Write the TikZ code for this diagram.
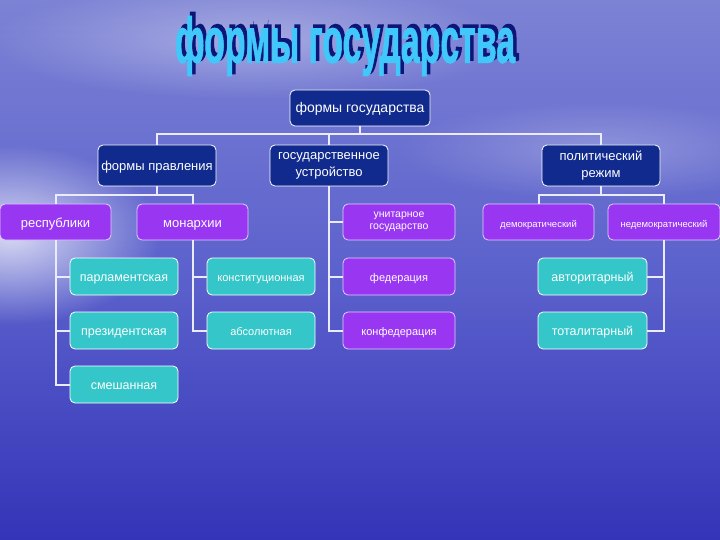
\documentclass[tikz,border=0pt]{standalone}
\usepackage{fontspec}
\setmainfont{Liberation Sans}
\newfontfamily\ttlfont[FakeBold=1.5]{Liberation Sans Bold}
\newfontfamily\ttlshfont[FakeBold=4]{Liberation Sans Bold}
\usetikzlibrary{fadings}
\tikzfading[name=glowfade, inner color=transparent!0, outer color=transparent!100]
\definecolor{navy}{RGB}{16,42,142}
\definecolor{purp}{RGB}{152,54,242}
\definecolor{teal2}{RGB}{52,198,200}
\definecolor{ttl}{RGB}{64,200,250}
\definecolor{ttlshadow}{RGB}{12,22,120}
\definecolor{skytop}{RGB}{124,130,212}
\definecolor{skymid}{RGB}{92,98,204}
\definecolor{seabot}{RGB}{52,52,184}
\newcommand{\fs}[1]{\fontsize{#1}{17}\selectfont}
\begin{document}
\begin{tikzpicture}[x=1pt,y=-1pt,
  box/.style={draw=white, line width=0.8pt, rounded corners=5pt, text=white,
    align=center, inner sep=1pt, minimum height=36pt},
  sl/.style={text height=10pt, text depth=0pt},
  navybox/.style={box, fill=navy, minimum height=41pt, minimum width=118pt},
  purpbox/.style={box, fill=purp, draw=purp!25!white},
  tealbox/.style={box, fill=teal2, minimum height=37pt, sl},
  conn/.style={draw=white!92!blue, line width=2pt}
]
\useasboundingbox (0,0) rectangle (720,540);
% background
\shade[top color=skytop, bottom color=seabot, middle color=skymid] (0,0) rectangle (720,540);
\fill[white, opacity=0.75, path fading=glowfade] (10,235) ellipse (150pt and 90pt);
\fill[white, opacity=0.35, path fading=glowfade] (250,40) ellipse (260pt and 60pt);
\fill[white, opacity=0.25, path fading=glowfade] (600,150) ellipse (200pt and 50pt);

% title
\node[text=ttlshadow, inner sep=0pt] (titleshadow) at (348,43)
  {\resizebox*{340pt}{60pt}{\ttlshfont формы государства}};
\node[text=ttl, inner sep=0pt] (title) at (345,46)
  {\resizebox*{340pt}{60pt}{\ttlfont формы государства}};

% nodes
\node[box, sl, fill=navy, minimum width=140pt, font=\fs{14}] (top) at (360,108) {формы государства};
\node[navybox, sl, font=\fs{13}] (fp) at (157,165.5) {формы правления};
\node[navybox, font=\fs{13}] (gu) at (329,165.5) {государственное\\устройство};
\node[navybox, font=\fs{13}] (pr) at (601,165.5) {политический\\режим};

\node[purpbox, sl, minimum width=111pt, font=\fs{13}] (rep) at (55.5,222) {республики};
\node[purpbox, sl, minimum width=111pt, font=\fs{13}] (mon) at (192.5,222) {монархии};
\node[purpbox, minimum width=112pt, font=\fontsize{10.5}{12.5}\selectfont] (unit) at (399,222) {унитарное\\государство};
\node[purpbox, sl, minimum width=111pt, font=\fs{9.5}] (demo) at (538.5,222) {демократический};
\node[purpbox, sl, minimum width=112pt, font=\fs{9.5}] (nedemo) at (664,222) {недемократический};

\node[tealbox, minimum width=108pt, font=\fs{12.5}] (parl) at (124,276.5) {парламентская};
\node[tealbox, minimum width=108pt, font=\fs{12.5}] (pres) at (124,330.5) {президентская};
\node[tealbox, minimum width=108pt, font=\fs{12.5}] (mix) at (124,384.5) {смешанная};
\node[tealbox, minimum width=108pt, font=\fs{11}] (konst) at (261,276.5) {конституционная};
\node[tealbox, minimum width=108pt, font=\fs{11}] (abs) at (261,330.5) {абсолютная};
\node[purpbox, sl, minimum height=37pt, minimum width=112pt, font=\fs{11}] (fed) at (399,276.5) {федерация};
\node[purpbox, sl, minimum height=37pt, minimum width=112pt, font=\fs{11}] (konf) at (399,330.5) {конфедерация};
\node[tealbox, minimum width=109pt, font=\fs{12.5}] (avt) at (592.5,276.5) {авторитарный};
\node[tealbox, minimum width=109pt, font=\fs{12.5}] (tot) at (592.5,330.5) {тоталитарный};

% connectors
\draw[conn] (top.south) -- ++(0,8) coordinate (b1);
\draw[conn] (fp.north) |- (b1) -| (pr.north);
\draw[conn] (gu.north) -- (gu.north |- b1);
\draw[conn] (fp.south) -- ++(0,9) coordinate (b2);
\draw[conn] (rep.north) |- (b2) -| (mon.north);
\draw[conn] (pr.south) -- ++(0,9) coordinate (b3);
\draw[conn] (demo.north) |- (b3) -| (nedemo.north);
\draw[conn] (rep.south) |- (parl.west);
\draw[conn] (rep.south) |- (pres.west);
\draw[conn] (rep.south) |- (mix.west);
\draw[conn] (mon.south) |- (konst.west);
\draw[conn] (mon.south) |- (abs.west);
\draw[conn] (gu.south) |- (unit.west);
\draw[conn] (gu.south) |- (fed.west);
\draw[conn] (gu.south) |- (konf.west);
\draw[conn] (nedemo.south) |- (avt.east);
\draw[conn] (nedemo.south) |- (tot.east);
\end{tikzpicture}
\end{document}
